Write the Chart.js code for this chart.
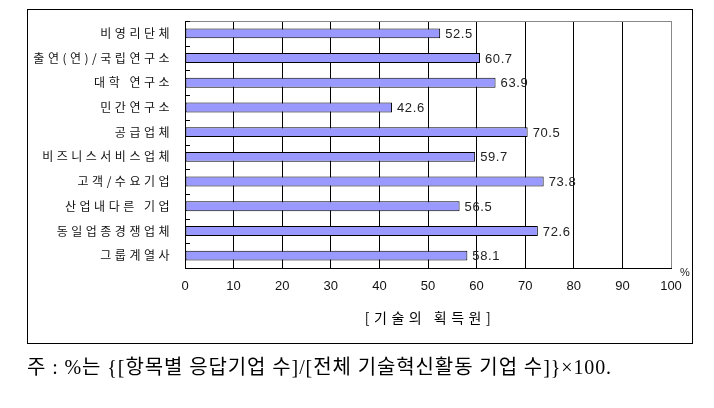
<!DOCTYPE html>
<html>
<head>
<meta charset="utf-8">
<script src="https://cdn.jsdelivr.net/npm/chart.js@4/dist/chart.umd.min.js"></script>
<style>
  html, body { margin: 0; padding: 0; background: #fff; }
  #wrap { position: relative; width: 714px; height: 408px; }
  #note {
    position: absolute; left: 27px; top: 351px;
    font-family: "Liberation Serif", "Noto Sans CJK KR", serif;
    font-size: 20px; letter-spacing: 0.9px; color: #000; white-space: nowrap;
  }
</style>
</head>
<body>
<div id="wrap">
  <canvas id="chart" width="714" height="408"></canvas>
  <div id="note">주 : %는 {[항목별 응답기업 수]/[전체 기술혁신활동 기업 수]}×100.</div>
</div>
<script>
  // 기술의 획득원 (%)
  var categories = [
    '비영리단체',
    '출연(연)/국립연구소',
    '대학 연구소',
    '민간연구소',
    '공급업체',
    '비즈니스서비스업체',
    '고객/수요기업',
    '산업내다른 기업',
    '동일업종경쟁업체',
    '그룹계열사'
  ];
  var values = [52.5, 60.7, 63.9, 42.6, 70.5, 59.7, 73.8, 56.5, 72.6, 58.1];
  var xTicks = [0, 10, 20, 30, 40, 50, 60, 70, 80, 90, 100];
  var axisTitle = '[기술의 획득원]';
  var unitLabel = '%';

  var KR = '"Noto Sans CJK KR", sans-serif';
  var NUM = '"Liberation Sans", Arial, sans-serif';

  // 장식: 테두리, 눈금, 값 레이블
  var decoPlugin = {
    id: 'deco',
    beforeDraw: function(c) {
      c.ctx.letterSpacing = '3.5px';
    },
    beforeDatasetsDraw: function(c) {
      c.ctx.letterSpacing = '0px';
    },
    afterDraw: function(c) {
      var ctx = c.ctx;
      var a = c.chartArea;
      var ys = c.scales.y;
      var xs = c.scales.x;
      ctx.save();
      ctx.letterSpacing = '0px';

      // 바깥 테두리
      ctx.strokeStyle = '#000';
      ctx.lineWidth = 1;
      ctx.strokeRect(27.5, 9.5, 665, 334);

      // 위쪽 선 (회색)
      ctx.strokeStyle = '#888';
      ctx.beginPath();
      ctx.moveTo(a.left, Math.round(a.top) + 0.5);
      ctx.lineTo(a.right + 0.5, Math.round(a.top) + 0.5);
      ctx.stroke();

      // 왼쪽 짧은 눈금
      ctx.strokeStyle = '#000';
      ctx.beginPath();
      for (var i = 0; i <= categories.length; i++) {
        var y = Math.round(ys.getPixelForValue(i - 0.5)) + 0.5;
        ctx.moveTo(a.left, y);
        ctx.lineTo(a.left + 5, y);
      }
      ctx.stroke();

      // 값 레이블
      ctx.fillStyle = '#222';
      ctx.font = '13px ' + NUM;
      ctx.letterSpacing = '0.6px';
      ctx.textAlign = 'left';
      ctx.textBaseline = 'middle';
      values.forEach(function(v, idx) {
        ctx.fillText(v.toFixed(1), xs.getPixelForValue(v) + 5, ys.getPixelForValue(idx) + 1);
      });

      // 단위
      ctx.letterSpacing = '0px';
      ctx.font = '11px ' + NUM;
      ctx.textAlign = 'center';
      ctx.fillText(unitLabel, a.right + 14, a.bottom + 5);

      // 축 제목
      ctx.letterSpacing = '4.5px';
      ctx.font = '14px ' + KR;
      ctx.fillStyle = '#000';
      ctx.fillText(axisTitle, (a.left + a.right) / 2 + 2, 318);
      ctx.restore();
    }
  };

  new Chart(document.getElementById('chart'), {
    type: 'bar',
    data: {
      labels: categories,
      datasets: [{
        data: values,
        backgroundColor: '#9999FF',
        borderColor: '#000',
        borderWidth: 1,
        borderSkipped: false,
        barPercentage: 0.4,
        categoryPercentage: 1.0
      }]
    },
    options: {
      indexAxis: 'y',
      responsive: false,
      animation: false,
      layout: { padding: { left: 0, right: 43, top: 21, bottom: 100 } },
      plugins: {
        legend: { display: false },
        tooltip: { enabled: false }
      },
      scales: {
        x: {
          min: 0,
          max: 100,
          afterBuildTicks: function(s) {
            s.ticks = xTicks.map(function(v) { return { value: v }; });
          },
          afterFit: function(s) { s.height = 40; },
          grid: {
            drawTicks: false,
            color: function(ctx) {
              return ctx.tick && ctx.tick.value === 100 ? '#888' : '#000';
            },
            lineWidth: 1
          },
          border: { color: '#000', width: 1 },
          ticks: {
            z: 1,
            padding: 11,
            color: '#111',
            font: { family: NUM, size: 13 }
          }
        },
        y: {
          afterFit: function(s) { s.width = 185; },
          grid: { display: false, drawTicks: false },
          border: { color: '#000', width: 1 },
          ticks: {
            padding: 12,
            color: '#111',
            font: { family: KR, size: 12 }
          }
        }
      }
    },
    plugins: [decoPlugin]
  });
</script>
</body>
</html>
